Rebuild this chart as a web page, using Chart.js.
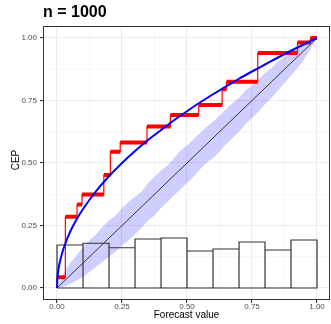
<!DOCTYPE html>
<html>
<head>
<meta charset="utf-8">
<script src="https://cdn.jsdelivr.net/npm/chart.js@4.4.1/dist/chart.umd.min.js"></script>
<style>
  html, body { margin:0; padding:0; background:#fff; }
  #wrap { width:331px; height:324px; }
</style>
</head>
<body>
<div id="wrap"><canvas id="chart"></canvas></div>
<script>
// histogram of forecast values (10 bins)
const binEdges = [0, 0.1, 0.2, 0.3, 0.4, 0.5, 0.6, 0.7, 0.8, 0.9, 1.0];
const binHeights = [0.172, 0.179, 0.161, 0.196, 0.200, 0.148, 0.156, 0.184, 0.152, 0.192];

// CEP step function (isotonic fit)
const stepStarts = [0.000, 0.032, 0.077, 0.096, 0.180, 0.205, 0.243, 0.346, 0.436, 0.545, 0.635, 0.652, 0.772, 0.925, 0.975];
const stepEnds   = [0.032, 0.077, 0.096, 0.180, 0.205, 0.243, 0.346, 0.436, 0.545, 0.635, 0.652, 0.772, 0.925, 0.975, 1.000];
const stepValues = [0.043, 0.285, 0.334, 0.374, 0.452, 0.545, 0.582, 0.646, 0.692, 0.732, 0.795, 0.825, 0.940, 0.982, 1.000];

// true CEP curve
const curveX = [0, 0.002, 0.005, 0.01, 0.02, 0.03, 0.05, 0.075, 0.1, 0.15, 0.2, 0.25, 0.3, 0.35, 0.4, 0.45, 0.5, 0.55, 0.6, 0.65, 0.7, 0.75, 0.8, 0.85, 0.9, 0.95, 1.0];
const curveY = [0, 0.045, 0.071, 0.100, 0.141, 0.173, 0.224, 0.274, 0.316, 0.387, 0.447, 0.500, 0.548, 0.592, 0.632, 0.671, 0.707, 0.742, 0.775, 0.806, 0.837, 0.866, 0.894, 0.922, 0.949, 0.975, 1.000];

// consistency band
const bandX = [0, 0.025, 0.05, 0.075, 0.1, 0.125, 0.15, 0.175, 0.2, 0.225, 0.25, 0.275, 0.3, 0.325, 0.35, 0.375, 0.4, 0.425, 0.45, 0.475, 0.5,
               0.525, 0.55, 0.575, 0.6, 0.625, 0.65, 0.675, 0.7, 0.725, 0.75, 0.775, 0.8, 0.825, 0.85, 0.875, 0.9, 0.925, 0.95, 0.975, 1.0];
const bandUpper = [0, 0.06, 0.10, 0.13, 0.165, 0.19, 0.215, 0.245, 0.27, 0.29, 0.32, 0.345, 0.365, 0.385, 0.42, 0.445, 0.47, 0.49, 0.52, 0.55, 0.57,
                   0.595, 0.62, 0.645, 0.665, 0.69, 0.715, 0.74, 0.76, 0.79, 0.81, 0.835, 0.86, 0.88, 0.905, 0.925, 0.945, 0.96, 0.975, 0.99, 1.0];
const bandLower = [0, 0.005, 0.015, 0.03, 0.045, 0.065, 0.085, 0.105, 0.125, 0.145, 0.17, 0.19, 0.215, 0.24, 0.27, 0.29, 0.32, 0.345, 0.37, 0.395, 0.42,
                   0.445, 0.475, 0.5, 0.52, 0.545, 0.575, 0.6, 0.625, 0.655, 0.68, 0.705, 0.735, 0.76, 0.79, 0.82, 0.85, 0.88, 0.915, 0.955, 1.0];

const gridVals = [0, 0.125, 0.25, 0.375, 0.5, 0.625, 0.75, 0.875, 1.0];
const tickLabels = ['0.00', '', '0.25', '', '0.50', '', '0.75', '', '1.00'];

const FONT = '"Liberation Sans", Arial, sans-serif';

// data for datasets
const upperPts = bandX.map((x, i) => ({x: x, y: bandUpper[i]}));
const lowerPts = bandX.map((x, i) => ({x: x, y: bandLower[i]}));
const curvePts = curveX.map((x, i) => ({x: x, y: curveY[i]}));

// histogram outline as one path
const histPts = [{x: binEdges[0], y: 0}];
binHeights.forEach((h, i) => {
  histPts.push({x: binEdges[i], y: h}, {x: binEdges[i + 1], y: h}, {x: binEdges[i + 1], y: 0});
});
histPts.push({x: binEdges[0], y: 0});

const stepThin = [{x: 0, y: 0}];
const stepThick = [];
stepStarts.forEach((s, i) => {
  stepThin.push({x: s, y: stepValues[i]}, {x: stepEnds[i], y: stepValues[i]});
  stepThick.push({x: s, y: stepValues[i]}, {x: stepEnds[i], y: stepValues[i]}, {x: stepEnds[i], y: null});
});

const isMajor = c => {
  const v = c && c.tick ? c.tick.value : 0;
  return Math.abs(v * 4 - Math.round(v * 4)) < 1e-6;
};

const frame = {
  id: 'frame',
  afterDraw(chart) {
    const ctx = chart.ctx, a = chart.chartArea;
    ctx.save();
    ctx.strokeStyle = '#333333';
    ctx.lineWidth = 1;
    ctx.strokeRect(a.left + 0.5, a.top + 0.5, a.right - a.left - 1, a.bottom - a.top - 1);
    ctx.fillStyle = '#000';
    ctx.font = 'bold 16px ' + FONT;
    ctx.textAlign = 'left';
    ctx.fillText('n = 1000', 43, 17);
    ctx.font = '10px ' + FONT;
    ctx.textAlign = 'center';
    ctx.fillText('Forecast value', (a.left + a.right) / 2, 318);
    ctx.translate(19, 160);
    ctx.rotate(-Math.PI / 2);
    ctx.fillText('CEP', 0, 0);
    ctx.restore();
  }
};

const axisCommon = {
  type: 'linear',
  offset: false,
  afterBuildTicks: s => { s.ticks = gridVals.map(v => ({value: v})); },
  ticks: {
    autoSkip: false,
    color: '#4d4d4d',
    font: {family: FONT, size: 8},
    callback: (v, i) => tickLabels[i]
  },
  grid: {
    offset: false,
    color: c => isMajor(c) ? '#ebebeb' : '#f2f2f2',
    lineWidth: c => isMajor(c) ? 1.1 : 0.6,
    tickColor: c => isMajor(c) ? '#333333' : 'rgba(0,0,0,0)',
    tickLength: 3,
    drawTicks: true
  },
  border: {display: false}
};

new Chart(document.getElementById('chart'), {
  type: 'line',
  data: {
    datasets: [
      {data: upperPts, borderWidth: 0, pointRadius: 0, backgroundColor: 'rgba(0,0,255,0.19)', fill: '+1', order: 10},
      {data: lowerPts, borderWidth: 0, pointRadius: 0, fill: false, order: 10},
      {data: [{x: 0, y: 0}, {x: 1, y: 1}], borderColor: '#333333', borderWidth: 1, pointRadius: 0, fill: false, order: 8},
      {data: histPts, borderColor: '#333333', borderWidth: 1.2, pointRadius: 0, fill: false, order: 6},
      {data: stepThick, borderColor: '#ff0000', borderWidth: 4, pointRadius: 0, fill: false, spanGaps: false, order: 4},
      {data: stepThin, borderColor: '#ff0000', borderWidth: 1.2, pointRadius: 0, fill: false, order: 3},
      {data: curvePts, borderColor: '#0000ff', borderWidth: 2, pointRadius: 0, fill: false, cubicInterpolationMode: 'monotone', order: 1}
    ]
  },
  options: {
    responsive: true,
    maintainAspectRatio: false,
    animation: false,
    devicePixelRatio: 1,
    layout: {padding: {top: 26, right: 1, left: 0, bottom: 0}},
    plugins: {legend: {display: false}, tooltip: {enabled: false}},
    scales: {
      x: Object.assign({}, axisCommon, {
        min: -0.054, max: 1.05,
        afterFit: s => { s.height = 24; },
        ticks: Object.assign({}, axisCommon.ticks, {padding: -1, maxRotation: 0})
      }),
      y: Object.assign({}, axisCommon, {
        min: -0.048, max: 1.048,
        afterFit: s => { s.width = 43; },
        ticks: Object.assign({}, axisCommon.ticks, {padding: 3})
      })
    }
  },
  plugins: [frame]
});
</script>
</body>
</html>
